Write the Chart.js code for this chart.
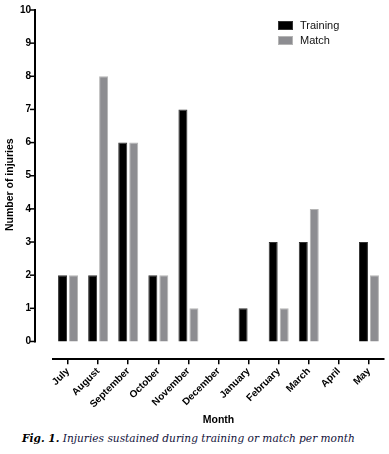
<!DOCTYPE html>
<html>
<head>
<meta charset="utf-8">
<script src="https://cdn.jsdelivr.net/npm/chart.js@4.4.0/dist/chart.umd.min.js"></script>
<style>
  html, body { margin: 0; padding: 0; background: #fff; }
  #wrap { position: relative; width: 389px; height: 454px; }
  #box { position: absolute; left: 0; top: 0; width: 389px; height: 428px; }
  #legend { position: absolute; left: 278px; top: 20px; font: 11px "Liberation Sans", Arial, sans-serif; color: #111; }
  #legend div { height: 15px; line-height: 11px; white-space: nowrap; }
  #legend span { display: inline-block; width: 15px; height: 9px; margin-right: 7px; vertical-align: -1px; box-sizing: border-box; }
  #caption { position: absolute; left: 22px; top: 432px; font: italic 10.6px "DejaVu Serif", "Liberation Serif", serif; color: #12123a; white-space: nowrap; }
  #caption b { color: #000; }
</style>
</head>
<body>
<div id="wrap">
  <div id="box"><canvas id="chart"></canvas></div>
  <div id="legend"></div>
  <div id="caption"><b>Fig. 1.</b> Injuries sustained during training or match per month</div>
</div>
<script>
const months = ['July', 'August', 'September', 'October', 'November', 'December',
                'January', 'February', 'March', 'April', 'May'];
const training = [2, 2, 6, 2, 7, 0, 1, 3, 3, 0, 3];
const match = [2, 8, 6, 2, 1, 0, 0, 1, 4, 0, 2];
const yTicks = [0, 1, 2, 3, 4, 5, 6, 7, 8, 9, 10];

const seriesNames = ['Training', 'Match'];
const fills = ['#000000', '#8d8d91'];
const edges = ['#333333', '#b5b5b5'];

// y axis is drawn detached from the bars, Prism style
const yAxisGap = 18;
const prismAxis = {
    id: 'prismAxis',
    afterDraw(chart) {
        const y = chart.scales.y;
        const ctx = chart.ctx;
        const x = chart.chartArea.left - yAxisGap;
        const top = y.getPixelForValue(yTicks[yTicks.length - 1]);
        const bottom = y.getPixelForValue(yTicks[0]);
        ctx.save();
        ctx.strokeStyle = '#000';
        ctx.lineWidth = 2;
        ctx.beginPath();
        ctx.moveTo(x, top - 1);
        ctx.lineTo(x, bottom + 1);
        ctx.stroke();
        ctx.lineWidth = 1.5;
        yTicks.forEach(v => {
            const py = y.getPixelForValue(v);
            ctx.beginPath();
            ctx.moveTo(x - 5, py);
            ctx.lineTo(x, py);
            ctx.stroke();
        });
        ctx.restore();
    }
};

const ctx = document.getElementById('chart');
const chart = new Chart(ctx, {
    type: 'bar',
    data: {
        labels: months,
        datasets: [
            {
                label: seriesNames[0],
                data: training,
                backgroundColor: fills[0],
                borderColor: edges[0],
                borderWidth: 1,
                categoryPercentage: 0.73,
                barPercentage: 0.82
            },
            {
                label: seriesNames[1],
                data: match,
                backgroundColor: fills[1],
                borderColor: edges[1],
                borderWidth: 1,
                categoryPercentage: 0.73,
                barPercentage: 0.82
            }
        ]
    },
    options: {
        responsive: true,
        maintainAspectRatio: false,
        animation: false,
        layout: {
            padding: { top: 10, right: 5, bottom: 2, left: 0 }
        },
        scales: {
            x: {
                border: { display: true, color: '#000', width: 2 },
                grid: {
                    display: true,
                    drawOnChartArea: false,
                    drawTicks: true,
                    offset: false,
                    tickLength: 5,
                    color: '#000',
                    lineWidth: 1.5
                },
                ticks: {
                    color: '#000',
                    font: { family: 'Liberation Sans', weight: 'bold', size: 10 },
                    maxRotation: 45,
                    minRotation: 45,
                    padding: 1,
                    autoSkip: false
                },
                title: {
                    display: true,
                    text: 'Month',
                    color: '#000',
                    font: { family: 'Liberation Sans', weight: 'bold', size: 10.5 },
                    padding: { top: 2, bottom: 0 }
                }
            },
            y: {
                min: -0.54,
                max: 10,
                border: { display: false },
                grid: { display: false, drawTicks: false },
                ticks: {
                    stepSize: 1,
                    includeBounds: false,
                    color: '#000',
                    padding: 22,
                    font: { family: 'Liberation Sans', weight: 'bold', size: 10 }
                },
                title: {
                    display: true,
                    text: 'Number of injuries',
                    color: '#000',
                    font: { family: 'Liberation Sans', weight: 'bold', size: 10.5 },
                    padding: { top: 4, bottom: 0 }
                },
                afterFit(scale) {
                    scale.width = 53;
                    scale.paddingTop = 5;
                    scale.paddingBottom = 5;
                }
            }
        },
        plugins: {
            legend: { display: false },
            tooltip: { enabled: false }
        }
    },
    plugins: [prismAxis]
});

// legend built from the datasets
const legendEl = document.getElementById('legend');
chart.data.datasets.forEach(ds => {
    const row = document.createElement('div');
    const sw = document.createElement('span');
    sw.style.background = ds.backgroundColor;
    sw.style.border = '1px solid ' + ds.borderColor;
    row.appendChild(sw);
    row.appendChild(document.createTextNode(ds.label));
    legendEl.appendChild(row);
});
</script>
</body>
</html>
